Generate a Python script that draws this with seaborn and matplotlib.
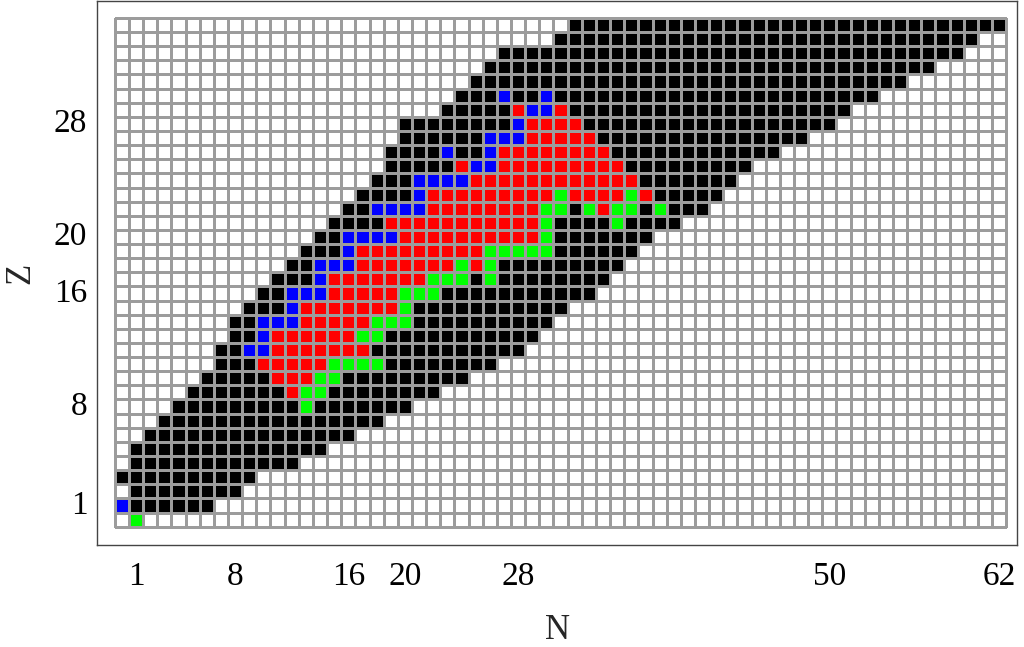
import numpy as np
import matplotlib
matplotlib.use("Agg")
import matplotlib.pyplot as plt
from matplotlib.colors import ListedColormap
import seaborn as sns

# grid size: N = 0..62, Z = 0..35
N_MAX = 62
Z_MAX = 35

# black band, one entry per Z = 1..35 (first and last N)
z_rows = list(range(1, 36))
black_lo = [1, 1, 0, 1, 1, 2, 3, 4, 5, 6, 7, 7, 8, 8, 9, 10, 11, 12, 13, 14,
            15, 16, 17, 18, 19, 19, 20, 20, 23, 24, 25, 26, 27, 31, 32]
black_hi = [6, 8, 9, 12, 14, 16, 18, 20, 22, 24, 26, 28, 29, 30, 31, 33, 34, 35, 36, 37,
            39, 41, 42, 43, 44, 46, 48, 50, 51, 53, 55, 57, 59, 60, 62]

# coloured runs as (Z, first N, last N)
red_runs = [(9, 12, 12), (10, 11, 13), (11, 10, 14), (12, 11, 17), (13, 11, 16),
            (14, 13, 17), (15, 13, 19), (16, 15, 19), (17, 15, 21), (18, 17, 23),
            (18, 25, 25), (19, 17, 25), (20, 20, 29), (21, 19, 29), (22, 22, 29),
            (22, 34, 34), (23, 22, 30), (23, 32, 35), (23, 37, 37), (24, 25, 36),
            (25, 24, 24), (25, 27, 35), (26, 27, 34), (27, 29, 33), (28, 29, 32),
            (29, 28, 28), (29, 31, 31)]
blue_runs = [(1, 0, 0), (12, 9, 10), (13, 10, 10), (14, 10, 12), (15, 12, 12),
             (16, 12, 14), (17, 14, 14), (18, 14, 16), (19, 16, 16), (20, 16, 19),
             (22, 18, 21), (23, 21, 21), (24, 21, 24), (25, 25, 26), (26, 23, 23),
             (26, 26, 26), (27, 26, 28), (28, 28, 28), (29, 29, 30), (30, 27, 27),
             (30, 30, 30)]
green_runs = [(0, 1, 1), (8, 13, 13), (9, 13, 14), (10, 14, 15), (11, 15, 18),
              (13, 17, 18), (14, 18, 20), (15, 20, 20), (16, 20, 22), (17, 22, 24),
              (17, 26, 26), (18, 24, 24), (18, 26, 26), (19, 26, 30), (20, 30, 30),
              (21, 30, 30), (21, 35, 35), (22, 30, 31), (22, 33, 33), (22, 35, 36),
              (22, 38, 38), (23, 31, 31), (23, 36, 36)]

x_ticks = [1, 8, 16, 20, 28, 50, 62]
y_ticks = [1, 8, 16, 20, 28]

# build the code matrix: 0 empty, 1 black, 2 red, 3 blue, 4 green
grid = np.zeros((Z_MAX + 1, N_MAX + 1), dtype=int)
for z, lo, hi in zip(z_rows, black_lo, black_hi):
    grid[z, lo:hi + 1] = 1
for code, runs in ((2, red_runs), (3, blue_runs), (4, green_runs)):
    for z, lo, hi in runs:
        grid[z, lo:hi + 1] = code

cmap = ListedColormap(["#ffffff", "#000000", "#ff0000", "#0000ff", "#00ff00"])

sns.set_style("white")
plt.rcParams["font.family"] = ["Liberation Serif", "DejaVu Serif"]

fig = plt.figure(figsize=(10.24, 6.47), dpi=100)
ax = fig.add_axes([97 / 1024, 102 / 647, 920 / 1024, 544 / 647])

sns.heatmap(grid, cmap=cmap, vmin=-0.5, vmax=4.5, cbar=False,
            linewidths=1.0, linecolor="#9c9c9c", ax=ax)

# heatmap cells sit at [n, n+1]; centre is n + 0.5
ax.set_xlim(-1.26, 63.76)
ax.set_ylim(-1.30, 37.2)
ax.set_xticks([t + 0.5 for t in x_ticks])
ax.set_xticklabels([str(t) for t in x_ticks], rotation=0)
ax.set_yticks([t + 0.5 for t in y_ticks])
ax.set_yticklabels([str(t) for t in y_ticks], rotation=0)

for s in ax.spines.values():
    s.set_visible(True)
    s.set_color("#444444")
    s.set_linewidth(1.0)

ax.tick_params(axis="both", direction="in", length=4, width=0.8, color="#333333",
               labelsize=24, labelcolor="black")
ax.tick_params(axis="x", pad=12)
ax.tick_params(axis="y", pad=7)

ax.set_xlabel("N", fontsize=25, labelpad=16)
ax.set_ylabel("Z", fontsize=25, labelpad=12)

fig.savefig("out.png", dpi=100)
